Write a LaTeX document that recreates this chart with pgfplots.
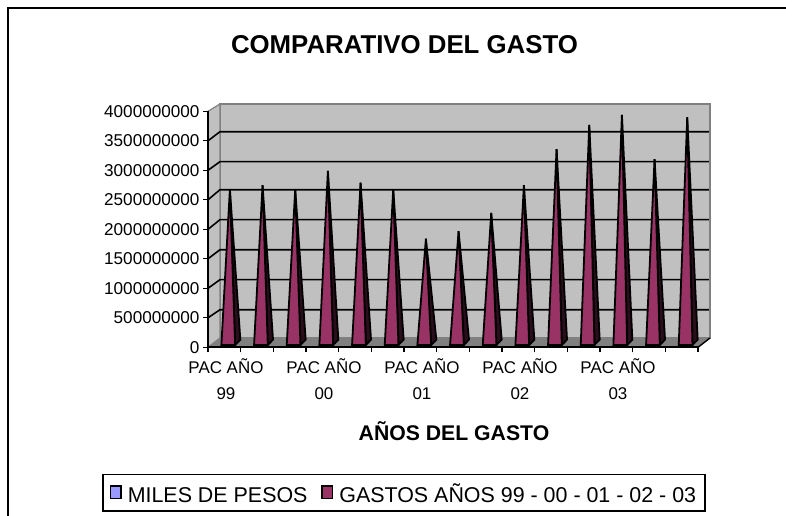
\documentclass[border=0pt]{standalone}
\usepackage{pgfplots}
\pgfplotsset{compat=1.18}
\usepackage{fontspec}
\setmainfont{Liberation Sans}
\definecolor{wall}{HTML}{C0C0C0}
\definecolor{edge}{HTML}{808080}
\definecolor{spike}{HTML}{993366}
\definecolor{spikedark}{HTML}{2A0E1C}
\definecolor{blueser}{HTML}{9999FF}
% one category: #1 = position, #2 = value
\newcommand\spike[2]{%
  \pgfmathsetmacro\xl{#1+0.41}%
  \pgfmathsetmacro\xr{#1+0.83}%
  \pgfmathsetmacro\xs{#1+0.99}%
  \pgfmathsetmacro\xt{#1+0.67}%
  \edef\temp{%
    \noexpand\addplot[spikeside,forget plot] coordinates {(\xr,0) (\xs,90000000) (\xt,#2)} --cycle;
    \noexpand\addplot[spikefront,forget plot] coordinates {(\xl,0) (\xr,0) (\xt,#2)} --cycle;
  }\temp}
% one wall gridline: #1 = value on front axis, #2 = height on back wall
\newcommand\wallgrid[2]{%
  \addplot[black,line width=1.6bp,forget plot] coordinates {(0,#1) (0.367,#2) (15.33,#2)};}
\begin{document}
\begin{tikzpicture}[x=1bp,y=1bp,
  spikeside/.style={fill=spikedark,draw=black,line width=1.8bp,line join=miter,yshift=2.3bp},
  spikefront/.style={fill=spike,draw=black,line width=1.8bp,line join=miter,yshift=2.3bp}]
\useasboundingbox (0,0) rectangle (786,516);
\draw[black,line width=1.6bp] (8,0) -- (8,508) -- (786,508);
\begin{axis}[
  at={(208bp,168.7bp)},anchor=south west,
  scale only axis,width=490bp,height=236bp,
  xmin=0,xmax=15,ymin=0,ymax=4000000000,
  clip=false,axis on top,
  axis x line=bottom,axis y line=left,
  axis line style={-,black,line width=1.6bp},
  tick style={black,line width=1.4bp},
  tick align=outside,major tick length=5bp,
  xtick={0,1,2,3,4,5,6,7,8,9,10,11,12,13,14,15},
  xticklabels={},
  extra x ticks={0.55,3.55,6.55,9.55,12.55},
  extra x tick labels={{PAC AÑO\\99},{PAC AÑO\\00},{PAC AÑO\\01},{PAC AÑO\\02},{PAC AÑO\\03}},
  extra x tick style={major tick length=0pt,
    xticklabel style={align=center,font=\fontsize{17}{26}\selectfont,inner sep=0pt,yshift=-11bp}},
  ytick={0,500000000,1000000000,1500000000,2000000000,2500000000,3000000000,3500000000,4000000000},
  scaled y ticks=false,
  yticklabel style={font=\fontsize{17.2}{20}\selectfont,/pgf/number format/.cd,fixed,precision=0,1000 sep={},assume math mode=true},
  title={\fontsize{25.9}{30}\selectfont\bfseries COMPARATIVO DEL GASTO},
  title style={at={(axis description cs:0.401,1.259)},anchor=center},
  xlabel={\fontsize{21.3}{25}\selectfont\bfseries AÑOS DEL GASTO},
  xlabel style={at={(axis description cs:0.502,-0.354)},anchor=center},
  legend columns=2,
  legend image code/.code={\draw[#1,line width=1.4bp] (0bp,-5.5bp) rectangle (10.5bp,7bp);},
  legend style={at={(axis description cs:0.4,-0.617)},anchor=center,draw=black,line width=1.4bp,
    font=\fontsize{21.5}{25}\selectfont,inner xsep=7bp,inner ysep=6.5bp,
    nodes={text height=19.5bp,text depth=0bp},
    /tikz/every even column/.append style={column sep=12bp},
    /tikz/every odd column/.append style={column sep=4bp}},
  legend cell align=left,
]
\addlegendimage{fill=blueser,draw=black}
\addlegendentry{MILES DE PESOS}
\addlegendimage{fill=spike,draw=black}
\addlegendentry{GASTOS AÑOS 99 - 00 - 01 - 02 - 03}
% walls and floor
\addplot[fill=wall,draw=edge,line width=1.6bp,forget plot] coordinates {(0.367,157600000) (0.367,4124000000) (15.367,4124000000) (15.367,157600000)} --cycle;
\addplot[fill=wall,draw=edge,line width=1.2bp,forget plot] coordinates {(0,0) (0,4000000000) (0.367,4124000000) (0.367,157600000)} --cycle;
\addplot[fill=edge,draw=edge,forget plot] coordinates {(0,0) (0.367,157600000) (15.367,157600000) (15,0)} --cycle;
\addplot[black,line width=1.4bp,forget plot] coordinates {(15,0) (15.367,157600000)};
\wallgrid{500000000}{637000000}
\wallgrid{1000000000}{1146000000}
\wallgrid{1500000000}{1654000000}
\wallgrid{2000000000}{2163000000}
\wallgrid{2500000000}{2671000000}
\wallgrid{3000000000}{3146000000}
\wallgrid{3500000000}{3654000000}
\spike{0}{2640000000}
\spike{1}{2710000000}
\spike{2}{2640000000}
\spike{3}{2950000000}
\spike{4}{2750000000}
\spike{5}{2640000000}
\spike{6}{1800000000}
\spike{7}{1930000000}
\spike{8}{2240000000}
\spike{9}{2710000000}
\spike{10}{3320000000}
\spike{11}{3730000000}
\spike{12}{3900000000}
\spike{13}{3150000000}
\spike{14}{3860000000}
\end{axis}
\end{tikzpicture}
\end{document}
